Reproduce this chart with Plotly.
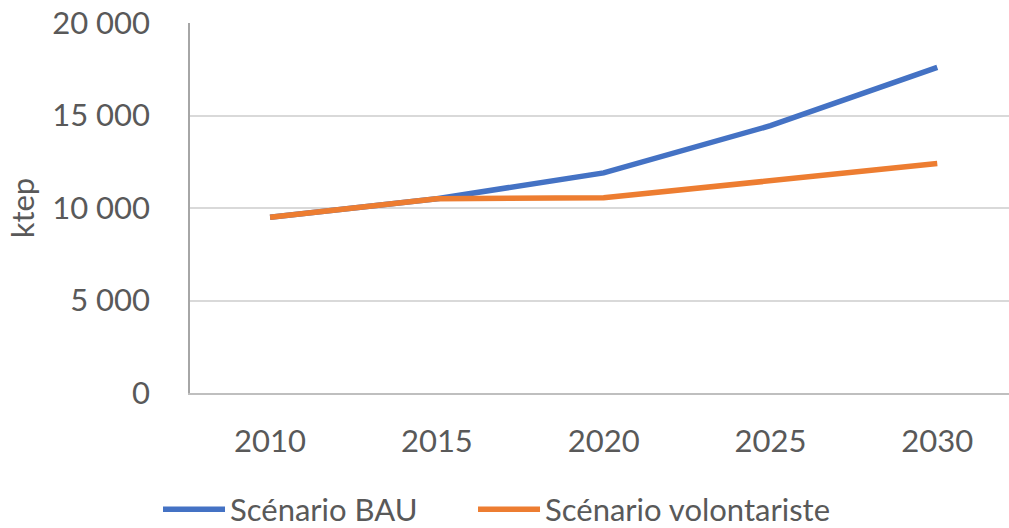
import plotly.graph_objects as go

years = ["2010", "2015", "2020", "2025", "2030"]
bau = [9500, 10500, 11900, 14450, 17600]
volontariste = [9500, 10500, 10550, 11500, 12400]

font_family = "Lato, 'Open Sans', sans-serif"
text_color = "#595959"

fig = go.Figure()
fig.add_trace(go.Scatter(
    x=years, y=bau, mode="lines", name="Scénario BAU",
    line=dict(color="#4472C4", width=5.5), legend="legend",
))
fig.add_trace(go.Scatter(
    x=years, y=volontariste, mode="lines", name="Scénario volontariste",
    line=dict(color="#ED7D31", width=5.5), legend="legend2",
))

legend_style = dict(
    orientation="h", xref="container", yref="container",
    xanchor="left", y=0.035, yanchor="middle",
    font=dict(size=31, color=text_color), itemwidth=62,
    bgcolor="rgba(0,0,0,0)",
)

fig.update_layout(
    width=1009, height=528,
    margin=dict(l=190, r=0, t=23, b=135, autoexpand=False),
    paper_bgcolor="white", plot_bgcolor="white",
    font=dict(family=font_family, size=31, color=text_color),
    showlegend=True,
    legend=dict(x=0.1566, **legend_style),
    legend2=dict(x=0.4688, **legend_style),
)
fig.update_xaxes(
    type="category", range=[-0.48, 4.43],
    showgrid=False, showline=True, linecolor="#bfbfbf", linewidth=1.5,
    ticks="", ticklabelstandoff=20, tickfont=dict(size=31, color=text_color),
    fixedrange=True,
)
fig.update_yaxes(
    range=[0, 20000], tickvals=[0, 5000, 10000, 15000, 20000],
    ticktext=["0", "5 000", "10 000", "15 000", "20 000"],
    showgrid=True, gridcolor="#d9d9d9", gridwidth=1.5,
    showline=True, linecolor="#a6a6a6", linewidth=1.5,
    zeroline=False, ticks="", ticklabelstandoff=32,
    tickfont=dict(size=31, color=text_color),
    title=dict(text="ktep", font=dict(size=31, color=text_color), standoff=8),
    fixedrange=True,
)

fig.write_html("out.html")
